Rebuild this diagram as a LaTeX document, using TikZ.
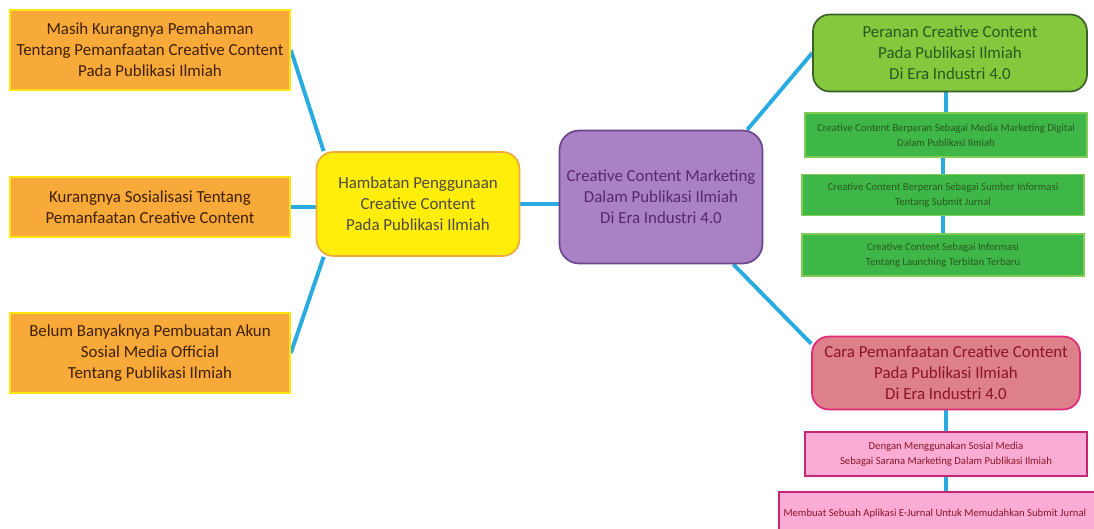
\documentclass[tikz,border=0pt]{standalone}
\usepackage{fontspec}
\setmainfont{Carlito}
\usetikzlibrary{backgrounds}
\definecolor{linkblue}{RGB}{41,171,226}
\definecolor{orfill}{RGB}{247,170,58}
\definecolor{oredge}{RGB}{255,228,20}
\definecolor{yelfill}{RGB}{255,238,10}
\definecolor{yeledge}{RGB}{240,170,60}
\definecolor{purfill}{RGB}{168,130,196}
\definecolor{puredge}{RGB}{108,70,140}
\definecolor{purtext}{RGB}{90,40,110}
\definecolor{grfill}{RGB}{132,200,62}
\definecolor{gredge}{RGB}{58,96,40}
\definecolor{grtext}{RGB}{40,90,30}
\definecolor{gbfill}{RGB}{62,182,72}
\definecolor{gbedge}{RGB}{128,204,84}
\definecolor{pkfill}{RGB}{222,128,138}
\definecolor{pkedge}{RGB}{222,40,120}
\definecolor{pktext}{RGB}{140,20,40}
\definecolor{pbfill}{RGB}{250,172,212}
\definecolor{pbedge}{RGB}{196,40,116}

\begin{document}
\begin{tikzpicture}[
  link/.style={linkblue,line width=2.8pt},
  topic/.style={draw,line width=1.2pt,align=center,font=\fontsize{12}{15}\selectfont},
  orbox/.style={topic,fill=orfill,draw=oredge,text=black!75!orange,minimum width=7cm},
  subbox/.style={draw,line width=1.2pt,align=center,font=\fontsize{7.6}{10.5}\selectfont,minimum width=7.05cm}]
  \useasboundingbox (0,0) rectangle (27.35,-13.225);
  % hambatan
  \node[orbox,minimum height=2cm] (o1) at (3.75,-1.25)
    {Masih Kurangnya Pemahaman\\Tentang Pemanfaatan Creative Content\\Pada Publikasi Ilmiah};
  \node[orbox,minimum height=1.5cm] (o2) at (3.75,-5.175)
    {Kurangnya Sosialisasi Tentang\\Pemanfaatan Creative Content};
  \node[orbox,minimum height=2cm] (o3) at (3.75,-8.825)
    {Belum Banyaknya Pembuatan Akun\\Sosial Media Official\\Tentang Publikasi Ilmiah};
  \node[topic,rounded corners=12pt,fill=yelfill,draw=yeledge,text=black!80!yellow,
    minimum width=5.075cm,minimum height=2.6cm] (yel) at (10.45,-5.1)
    {Hambatan Penggunaan\\Creative Content\\Pada Publikasi Ilmiah};
  % pusat
  \node[topic,rounded corners=14pt,fill=purfill,draw=puredge,text=purtext,
    minimum width=5.075cm,minimum height=3.325cm] (pur) at (16.525,-4.925)
    {Creative Content Marketing\\Dalam Publikasi Ilmiah\\Di Era Industri 4.0};
  % peranan
  \node[topic,rounded corners=12pt,fill=grfill,draw=gredge,text=grtext,
    minimum width=6.85cm,minimum height=1.925cm] (gtop) at (23.75,-1.325)
    {Peranan Creative Content\\Pada Publikasi Ilmiah\\Di Era Industri 4.0};
  \node[subbox,fill=gbfill,draw=gbedge,text=grtext,minimum height=1.1cm] (g1) at (23.65,-3.375)
    {Creative Content Berperan Sebagai Media Marketing Digital\\Dalam Publikasi Ilmiah};
  \node[subbox,fill=gbfill,draw=gbedge,text=grtext,minimum height=1.025cm] (g2) at (23.575,-4.875)
    {Creative Content Berperan Sebagai Sumber Informasi\\Tentang Submit Jurnal};
  \node[subbox,fill=gbfill,draw=gbedge,text=grtext,minimum height=1.05cm] (g3) at (23.575,-6.375)
    {Creative Content Sebagai Informasi\\Tentang Launching Terbitan Terbaru};
  % cara pemanfaatan
  \node[topic,rounded corners=12pt,fill=pkfill,draw=pkedge,text=pktext,
    minimum width=6.7cm,minimum height=1.825cm] (ptop) at (23.65,-9.325)
    {Cara Pemanfaatan Creative Content\\Pada Publikasi Ilmiah\\Di Era Industri 4.0};
  \node[subbox,fill=pbfill,draw=pbedge,text=pktext,minimum height=1.1cm] (p1) at (23.65,-11.35)
    {Dengan Menggunakan Sosial Media\\Sebagai Sarana Marketing Dalam Publikasi Ilmiah};
  \node[subbox,fill=pbfill,draw=pbedge,text=pktext,anchor=north west,
    minimum height=1.1cm,text width=8.6cm,align=flush left,font=\fontsize{7.6}{10}\selectfont] (p2) at (19.45,-12.275)
    {Membuat Sebuah Aplikasi E-Jurnal Untuk Memudahkan Submit Jurnal};
  % garis penghubung
  \begin{scope}[on background layer]
    \draw[link] (o1.east) -- ([xshift=0.2cm]yel.north west);
    \draw[link] (o2.east) -- (o2.east -| yel.west);
    \draw[link] (o3.east) -- ([xshift=0.2cm]yel.south west);
    \draw[link] (yel.east) -- (yel.east -| pur.west);
    \draw[link] ([xshift=-0.4cm]pur.north east) -- (gtop.west);
    \draw[link] ([xshift=-0.75cm]pur.south east) -- ([yshift=-0.2cm]ptop.north west);
    \draw[link] (gtop.south -| g1.north) -- (g1.north);
    \draw[link] (g1.south -| g2.north) -- (g2.north);
    \draw[link] (g2.south -| g3.north) -- (g3.north);
    \draw[link] (ptop.south -| p1.north) -- (p1.north);
    \draw[link] (p1.south) -- (p1.south |- p2.north);
  \end{scope}
\end{tikzpicture}
\end{document}
